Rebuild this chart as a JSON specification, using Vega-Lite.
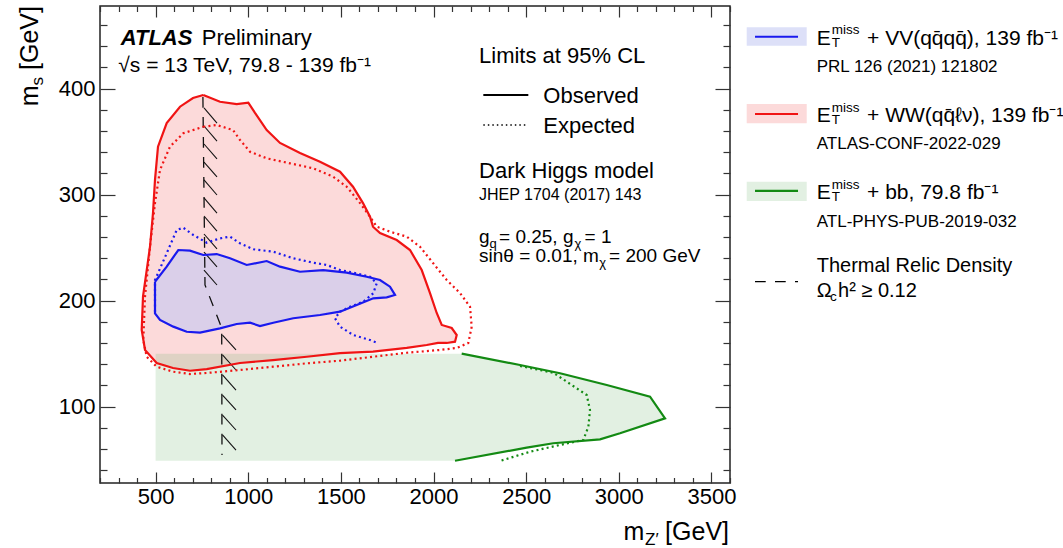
{
"$schema": "https://vega.github.io/schema/vega-lite/v6.json",
"width": 630, "height": 477,
"autosize": {"type": "none"},
"padding": {"left": 100, "top": 6, "right": 333, "bottom": 65},
"background": "white",
"config": {
  "view": {"stroke": "#222", "strokeWidth": 1.5},
  "axis": {"grid": false, "domain": false, "labelFont": "Liberation Sans", "labelFontSize": 22, "labelColor": "#000", "tickColor": "#333", "tickWidth": 1.2, "zindex": 1, "format": "d"}
},
"resolve": {"axis": {"x": "independent", "y": "independent"}},
"encoding": {
  "x": {"field": "x", "type": "quantitative", "scale": {"domain": [200, 3600], "nice": false, "zero": false}, "axis": null},
  "y": {"field": "y", "type": "quantitative", "scale": {"domain": [28, 478], "nice": false, "zero": false}, "axis": null}
},
"datasets": {
  "redObs": [{"x":757.5,"y":394.0},{"x":847.6,"y":387.7},{"x":937.8,"y":385.5},{"x":1000.4,"y":386.8},{"x":1036.5,"y":377.1},{"x":1099.7,"y":361.0},{"x":1171.5,"y":348.8},{"x":1279.4,"y":339.3},{"x":1387.3,"y":331.1},{"x":1495.3,"y":321.7},{"x":1565.4,"y":307.5},{"x":1619.4,"y":292.1},{"x":1657.2,"y":279.2},{"x":1673.4,"y":269.8},{"x":1711.2,"y":263.8},{"x":1801.3,"y":257.2},{"x":1873.1,"y":247.8},{"x":1936.2,"y":228.9},{"x":1981,"y":207.2},{"x":2017.2,"y":188.4},{"x":2044.2,"y":177.1},{"x":2098.1,"y":174.2},{"x":2125.1,"y":167.6},{"x":2115.9,"y":161.3},{"x":2071.2,"y":160.1},{"x":2024.2,"y":160.1},{"x":1963.2,"y":158.2},{"x":1855.3,"y":155.4},{"x":1673.4,"y":151.9},{"x":1495.3,"y":150.6},{"x":1315.6,"y":147.1},{"x":1133.7,"y":144.0},{"x":955.6,"y":141.2},{"x":775.9,"y":135.5},{"x":685.7,"y":133.9},{"x":594,"y":136.5},{"x":506,"y":141.2},{"x":442.9,"y":153.5},{"x":425.1,"y":172.3},{"x":432.1,"y":203.8},{"x":469.9,"y":250.9},{"x":486,"y":282.7},{"x":496.8,"y":313.9},{"x":513,"y":345.3},{"x":560,"y":367.6},{"x":631.8,"y":383},{"x":701.9,"y":391.2},{"x":757.5,"y":394.0}],
  "redExp": [{"x":757.5,"y":364.1},{"x":829.8,"y":365.7},{"x":917.8,"y":361.0},{"x":955.6,"y":351.6},{"x":1009.6,"y":340.5},{"x":1099.7,"y":334.3},{"x":1225.4,"y":329.6},{"x":1349.6,"y":324.9},{"x":1457.5,"y":317.0},{"x":1531.4,"y":307.5},{"x":1603.2,"y":292.1},{"x":1657.2,"y":279.2},{"x":1693.3,"y":269.8},{"x":1765.1,"y":265.1},{"x":1855.3,"y":260.4},{"x":1927,"y":250.9},{"x":1997.2,"y":235.5},{"x":2071.2,"y":219.5},{"x":2142.9,"y":207.2},{"x":2196.9,"y":194.3},{"x":2206,"y":175.4},{"x":2187.7,"y":160.1},{"x":2125.1,"y":155.4},{"x":2035,"y":153.5},{"x":1855.3,"y":150.9},{"x":1673.4,"y":147.1},{"x":1495.3,"y":143.4},{"x":1315.6,"y":140.9},{"x":1133.7,"y":137.7},{"x":955.6,"y":134.6},{"x":775.9,"y":131.8},{"x":685.7,"y":130.8},{"x":594,"y":133.0},{"x":506,"y":137.7},{"x":452,"y":147.1},{"x":433.7,"y":162.9},{"x":442.9,"y":203.8},{"x":469.9,"y":250.9},{"x":496.8,"y":292.1},{"x":523.8,"y":323.3},{"x":577.8,"y":345.3},{"x":649.6,"y":357.9},{"x":757.5,"y":364.1}],
  "blueObs": [{"x":496.8,"y":217.9},{"x":560,"y":232.1},{"x":622.6,"y":247.8},{"x":685.7,"y":247.2},{"x":757.5,"y":243.1},{"x":829.8,"y":244.0},{"x":901.6,"y":240.0},{"x":991.7,"y":233.7},{"x":1099.7,"y":237.4},{"x":1171.5,"y":232.1},{"x":1279.4,"y":227.3},{"x":1405.1,"y":228.9},{"x":1531.4,"y":226.4},{"x":1639.4,"y":222.6},{"x":1711.2,"y":219.5},{"x":1765.1,"y":213.2},{"x":1792.1,"y":205.4},{"x":1747.3,"y":203.2},{"x":1675,"y":202.2},{"x":1585.4,"y":195.9},{"x":1495.3,"y":189.6},{"x":1387.3,"y":186.5},{"x":1243.2,"y":183.4},{"x":1135.3,"y":179.2},{"x":1063.5,"y":176.1},{"x":1009.6,"y":179.2},{"x":937.8,"y":178.0},{"x":847.6,"y":173.9},{"x":739.7,"y":169.8},{"x":667.9,"y":170.7},{"x":595.6,"y":175.5},{"x":523.8,"y":181.8},{"x":496.8,"y":188.1},{"x":496.8,"y":217.9}],
  "blueExp": [{"x":496.8,"y":189.6},{"x":496.8,"y":219.5},{"x":560,"y":244.7},{"x":614,"y":266.7},{"x":649.6,"y":268.8},{"x":703.5,"y":262.0},{"x":775.9,"y":254.7},{"x":847.6,"y":258.8},{"x":901.6,"y":260.4},{"x":955.6,"y":254.1},{"x":1027.4,"y":248.5},{"x":1135.3,"y":246.2},{"x":1243.2,"y":240.0},{"x":1351.2,"y":235.8},{"x":1423.5,"y":233.7},{"x":1495.3,"y":228.9},{"x":1585.4,"y":225.8},{"x":1657.2,"y":222.6},{"x":1693.3,"y":216.4},{"x":1675,"y":207.0},{"x":1621,"y":199.0},{"x":1549.3,"y":194.3},{"x":1495.3,"y":189.6},{"x":1468.3,"y":183.4},{"x":1495.3,"y":175.5},{"x":1566.5,"y":167.6},{"x":1657.2,"y":162.9},{"x":1702,"y":159.8}],
  "greenObs": [{"x":2152,"y":150},{"x":2466.7,"y":139.3},{"x":2682.6,"y":131.5},{"x":2934.7,"y":120.5},{"x":3168.4,"y":109.4},{"x":3249.3,"y":89.0},{"x":3006.4,"y":74.9},{"x":2898.5,"y":69.2},{"x":2646.5,"y":65.5},{"x":2502.9,"y":61.3},{"x":2115.9,"y":49}],
  "greenFill": [{"x":500,"y":150},{"x":2152,"y":150},{"x":2466.7,"y":139.3},{"x":2682.6,"y":131.5},{"x":2934.7,"y":120.5},{"x":3168.4,"y":109.4},{"x":3249.3,"y":89.0},{"x":3006.4,"y":74.9},{"x":2898.5,"y":69.2},{"x":2646.5,"y":65.5},{"x":2502.9,"y":61.3},{"x":2115.9,"y":49},{"x":500,"y":49},{"x":500,"y":150}],
  "greenExp": [{"x":2466.7,"y":138.4},{"x":2646.5,"y":132.0},{"x":2718.8,"y":123.6},{"x":2826.7,"y":111.0},{"x":2844.5,"y":96.9},{"x":2835.7,"y":81.1},{"x":2808.4,"y":68.6},{"x":2682.6,"y":63.9},{"x":2520.7,"y":57.5},{"x":2358.8,"y":48.8}],
  "relic": [{"x":755.4,"y":392.2},{"x":766.7,"y":214.8},{"x":856.8,"y":174.2},{"x":858.4,"y":54.4}],
  "hatch": [
    {"k":1,"x":761.3,"y":381.8},{"k":1,"x":831.4,"y":367.6},
    {"k":2,"x":761.3,"y":364.8},{"k":2,"x":831.4,"y":350.6},
    {"k":3,"x":761.3,"y":347.8},{"k":3,"x":831.4,"y":333.7},
    {"k":4,"x":761.3,"y":330.8},{"k":4,"x":831.4,"y":316.7},
    {"k":5,"x":761.3,"y":313.9},{"k":5,"x":831.4,"y":299.7},
    {"k":6,"x":761.3,"y":296.9},{"k":6,"x":831.4,"y":282.7},
    {"k":7,"x":761.3,"y":279.9},{"k":7,"x":831.4,"y":265.7},
    {"k":8,"x":761.3,"y":262.9},{"k":8,"x":831.4,"y":248.8},
    {"k":9,"x":761.3,"y":245.9},{"k":9,"x":831.4,"y":231.8},
    {"k":10,"x":761.3,"y":228.9},{"k":10,"x":831.4,"y":214.8},
    {"k":11,"x":861.1,"y":167.6},{"k":11,"x":934.0,"y":153.5},
    {"k":12,"x":861.1,"y":148.8},{"k":12,"x":934.0,"y":134.6},
    {"k":13,"x":861.1,"y":129.9},{"k":13,"x":934.0,"y":115.7},
    {"k":14,"x":861.1,"y":111.0},{"k":14,"x":934.0,"y":96.9},
    {"k":15,"x":861.1,"y":92.1},{"k":15,"x":934.0,"y":78.0},
    {"k":16,"x":861.1,"y":73.3},{"k":16,"x":934.0,"y":59.1}
  ],
  "obsL": [{"x":2268.7,"y":394.0},{"x":2511.6,"y":394.0}],
  "expL": [{"x":2268.7,"y":365.7},{"x":2511.6,"y":365.7}],
  "relL": [{"x":3735,"y":217.9},{"x":3967.1,"y":217.9}],
  "sw": [
    {"s":"VV","x":3690.2,"x2":4014.0,"y":440.5,"y2":457.9},
    {"s":"WW","x":3690.2,"x2":4014.0,"y":367.3,"y2":385.5},
    {"s":"bb","x":3690.2,"x2":4014.0,"y":294.0,"y2":312.2}
  ],
  "swl": [
    {"s":"VV","x":3735,"y":449.0},{"s":"VV","x":3967.1,"y":449.0},
    {"s":"WW","x":3735,"y":376.1},{"s":"WW","x":3967.1,"y":376.1},
    {"s":"bb","x":3735,"y":303.5},{"s":"bb","x":3967.1,"y":303.5}
  ],
  "tAtlas": [{"t":"ATLAS","x":311.7,"y":441.2}],
  "t22": [{"t":"Preliminary","x":748.9,"y":441.2},{"t":"Limits at 95% CL","x":2245.5,"y":423.9},{"t":"Observed","x":2592.5,"y":386.8},{"t":"Expected","x":2592.5,"y":358.5},{"t":"Dark Higgs model","x":2245.5,"y":315.5}],
  "t21": [{"t":"√s = 13 TeV, 79.8 - 139 fb⁻¹","x":298.8,"y":416.0},{"t":"E","x":4068,"y":441.2},{"t":"+ VV(qq\u0304qq\u0304), 139 fb⁻¹","x":4339.6,"y":441.2},{"t":"E","x":4068,"y":368.3},{"t":"+ WW(qq\u0304ℓν), 139 fb⁻¹","x":4339.6,"y":368.3},{"t":"E","x":4068,"y":295.6},{"t":"+ bb, 79.8 fb⁻¹","x":4339.6,"y":295.6}],
  "t17": [{"t":"PRL 126 (2021) 121802","x":4068,"y":416.0},{"t":"ATLAS-CONF-2022-029","x":4068,"y":343.1},{"t":"ATL-PHYS-PUB-2019-032","x":4068,"y":269.8}],
  "t16": [{"t":"JHEP 1704 (2017) 143","x":2245.5,"y":295.0}],
  "t19": [{"t":"g","x":2245.5,"y":254.1},{"t":"= 0.25, g","x":2353.4,"y":254.1},{"t":"= 1","x":2814.8,"y":254.1},{"t":"sinθ = 0.01, m","x":2245.5,"y":236.2},{"t":"= 200 GeV","x":2947.1,"y":236.2}],
  "t13": [{"t":"q","x":2302.1,"y":249.7},{"t":"χ","x":2760.9,"y":249.7},{"t":"χ","x":2894.7,"y":231.8}],
  "t14": [{"t":"miss","x":4149,"y":451.3},{"t":"T","x":4149,"y":439.6},{"t":"miss","x":4149,"y":378.4},{"t":"T","x":4149,"y":366.7},{"t":"miss","x":4149,"y":305.8},{"t":"T","x":4149,"y":294.0},{"t":"c","x":4139.8,"y":199.7}],
  "t20": [{"t":"Thermal Relic Density","x":4068,"y":227.3},{"t":"Ω","x":4068,"y":203.8},{"t":"h² ≥ 0.12","x":4183,"y":203.8}],
  "xTitle": [{"t":"m","x":3138.1,"y":-25.8},{"t":"[GeV]","x":3594.7,"y":-25.8}],
  "xTitleSub": [{"t":"Z′","x":3141.4,"y":-30.5}],
  "yTitle": [{"t":"[GeV]","x":-134.6,"y":478},{"t":"m","x":-134.6,"y":403.0}],
  "yTitleSub": [{"t":"s","x":-107.6,"y":411.0}]
},
"layer": [
  {"data": {"name": "redObs"},
   "mark": {"type": "line", "fill": "#fcdada", "stroke": "transparent", "strokeWidth": 0},
   "encoding": {
     "x": {"field": "x", "type": "quantitative", "scale": {"domain": [200, 3600], "nice": false, "zero": false},
           "axis": {"orient": "bottom", "values": [500,1000,1500,2000,2500,3000,3500], "tickSize": -11, "labelPadding": 14, "title": null}},
     "y": {"field": "y", "type": "quantitative", "scale": {"domain": [28, 478], "nice": false, "zero": false},
           "axis": {"orient": "left", "values": [100,200,300,400], "tickSize": -15, "labelPadding": 20, "title": null}},
     "order": {"value": null}}},
  {"data": {"name": "greenFill"},
   "mark": {"type": "line", "fill": "#6eb46e", "fillOpacity": 0.2, "stroke": "transparent", "strokeWidth": 0},
   "encoding": {
     "x": {"field": "x", "type": "quantitative", "scale": {"domain": [200, 3600], "nice": false, "zero": false},
           "axis": {"orient": "bottom", "values": [200,300,400,600,700,800,900,1100,1200,1300,1400,1600,1700,1800,1900,2100,2200,2300,2400,2600,2700,2800,2900,3100,3200,3300,3400,3600], "tickSize": -5.5, "labels": false, "title": null}},
     "y": {"field": "y", "type": "quantitative", "scale": {"domain": [28, 478], "nice": false, "zero": false},
           "axis": {"orient": "left", "values": [40,60,80,120,140,160,180,220,240,260,280,320,340,360,380,420,440,460], "tickSize": -7, "labels": false, "title": null}},
     "order": {"value": null}}},
  {"data": {"name": "blueObs"},
   "mark": {"type": "line", "fill": "#dacfe9", "stroke": "transparent", "strokeWidth": 0},
   "encoding": {
     "x": {"field": "x", "type": "quantitative", "scale": {"domain": [200, 3600], "nice": false, "zero": false},
           "axis": {"orient": "top", "values": [500,1000,1500,2000,2500,3000,3500], "tickSize": -11, "labels": false, "title": null}},
     "y": {"field": "y", "type": "quantitative", "scale": {"domain": [28, 478], "nice": false, "zero": false},
           "axis": {"orient": "right", "values": [100,200,300,400], "tickSize": -15, "labels": false, "title": null}},
     "order": {"value": null}}},
  {"data": {"name": "relic"},
   "mark": {"type": "line", "stroke": "#111", "strokeWidth": 1.3, "strokeDash": [10.7, 9.3]},
   "encoding": {
     "x": {"field": "x", "type": "quantitative", "scale": {"domain": [200, 3600], "nice": false, "zero": false},
           "axis": {"orient": "top", "values": [200,300,400,600,700,800,900,1100,1200,1300,1400,1600,1700,1800,1900,2100,2200,2300,2400,2600,2700,2800,2900,3100,3200,3300,3400,3600], "tickSize": -5.5, "labels": false, "title": null}},
     "y": {"field": "y", "type": "quantitative", "scale": {"domain": [28, 478], "nice": false, "zero": false},
           "axis": {"orient": "right", "values": [40,60,80,120,140,160,180,220,240,260,280,320,340,360,380,420,440,460], "tickSize": -7, "labels": false, "title": null}},
     "order": {"value": null}}},
  {"data": {"name": "hatch"},
   "mark": {"type": "line", "stroke": "#111", "strokeWidth": 1.1},
   "encoding": {"detail": {"field": "k"}, "order": {"value": null}}},
  {"data": {"name": "redExp"},
   "mark": {"type": "line", "stroke": "#f01414", "strokeWidth": 2.2, "strokeDash": [2, 3.2]},
   "encoding": {"order": {"value": null}}},
  {"data": {"name": "redObs"},
   "mark": {"type": "line", "stroke": "#f01414", "strokeWidth": 2.2},
   "encoding": {"order": {"value": null}}},
  {"data": {"name": "blueExp"},
   "mark": {"type": "line", "stroke": "#1a1aee", "strokeWidth": 2.2, "strokeDash": [2, 3.2]},
   "encoding": {"order": {"value": null}}},
  {"data": {"name": "blueObs"},
   "mark": {"type": "line", "stroke": "#1a1aee", "strokeWidth": 2.2},
   "encoding": {"order": {"value": null}}},
  {"data": {"name": "greenExp"},
   "mark": {"type": "line", "stroke": "#138a13", "strokeWidth": 2.2, "strokeDash": [2, 3.2]},
   "encoding": {"order": {"value": null}}},
  {"data": {"name": "greenObs"},
   "mark": {"type": "line", "stroke": "#138a13", "strokeWidth": 2.2},
   "encoding": {"order": {"value": null}}},
  {"data": {"name": "obsL"},
   "mark": {"type": "line", "stroke": "#000", "strokeWidth": 2},
   "encoding": {"order": {"value": null}}},
  {"data": {"name": "expL"},
   "mark": {"type": "line", "stroke": "#000", "strokeWidth": 1.5, "strokeDash": [1.5, 3]},
   "encoding": {"order": {"value": null}}},
  {"data": {"name": "relL"},
   "mark": {"type": "line", "stroke": "#000", "strokeWidth": 1.3, "strokeDash": [10.7, 9.3]},
   "encoding": {"order": {"value": null}}},
  {"data": {"name": "sw"},
   "mark": {"type": "rect"},
   "encoding": {"x2": {"field": "x2"}, "y2": {"field": "y2"},
     "fill": {"field": "s", "type": "nominal", "scale": {"domain": ["VV","WW","bb"], "range": ["#dde0f8","#fcdada","#e2f0e2"]}, "legend": null}}},
  {"data": {"name": "swl"},
   "mark": {"type": "line", "strokeWidth": 2.2},
   "encoding": {"detail": {"field": "s"}, "order": {"value": null},
     "stroke": {"field": "s", "type": "nominal", "scale": {"domain": ["VV","WW","bb"], "range": ["#1a1aee","#f01414","#138a13"]}, "legend": null}}},
  {"data": {"name": "tAtlas"},
   "mark": {"type": "text", "align": "left", "baseline": "alphabetic", "font": "Liberation Sans", "fontSize": 22, "fontWeight": "bold", "fontStyle": "italic", "color": "#000"},
   "encoding": {"text": {"field": "t"}}},
  {"data": {"name": "t22"},
   "mark": {"type": "text", "align": "left", "baseline": "alphabetic", "font": "Liberation Sans", "fontSize": 22, "color": "#000"},
   "encoding": {"text": {"field": "t"}}},
  {"data": {"name": "t21"},
   "mark": {"type": "text", "align": "left", "baseline": "alphabetic", "font": "Liberation Sans", "fontSize": 21, "color": "#000"},
   "encoding": {"text": {"field": "t"}}},
  {"data": {"name": "t20"},
   "mark": {"type": "text", "align": "left", "baseline": "alphabetic", "font": "Liberation Sans", "fontSize": 20, "color": "#000"},
   "encoding": {"text": {"field": "t"}}},
  {"data": {"name": "t19"},
   "mark": {"type": "text", "align": "left", "baseline": "alphabetic", "font": "Liberation Sans", "fontSize": 19, "color": "#000"},
   "encoding": {"text": {"field": "t"}}},
  {"data": {"name": "t17"},
   "mark": {"type": "text", "align": "left", "baseline": "alphabetic", "font": "Liberation Sans", "fontSize": 17, "color": "#000"},
   "encoding": {"text": {"field": "t"}}},
  {"data": {"name": "t16"},
   "mark": {"type": "text", "align": "left", "baseline": "alphabetic", "font": "Liberation Sans", "fontSize": 16, "color": "#000"},
   "encoding": {"text": {"field": "t"}}},
  {"data": {"name": "t14"},
   "mark": {"type": "text", "align": "left", "baseline": "alphabetic", "font": "Liberation Sans", "fontSize": 13.5, "color": "#000"},
   "encoding": {"text": {"field": "t"}}},
  {"data": {"name": "t13"},
   "mark": {"type": "text", "align": "left", "baseline": "alphabetic", "font": "Liberation Sans", "fontSize": 13, "color": "#000"},
   "encoding": {"text": {"field": "t"}}},
  {"data": {"name": "xTitle"},
   "mark": {"type": "text", "align": "right", "baseline": "alphabetic", "font": "Liberation Sans", "fontSize": 25, "color": "#000"},
   "encoding": {"text": {"field": "t"}}},
  {"data": {"name": "xTitleSub"},
   "mark": {"type": "text", "align": "left", "baseline": "alphabetic", "font": "Liberation Sans", "fontSize": 17, "color": "#000"},
   "encoding": {"text": {"field": "t"}}},
  {"data": {"name": "yTitle"},
   "mark": {"type": "text", "align": "right", "baseline": "alphabetic", "angle": 270, "font": "Liberation Sans", "fontSize": 25, "color": "#000"},
   "encoding": {"text": {"field": "t"}}},
  {"data": {"name": "yTitleSub"},
   "mark": {"type": "text", "align": "right", "baseline": "alphabetic", "angle": 270, "font": "Liberation Sans", "fontSize": 17, "color": "#000"},
   "encoding": {"text": {"field": "t"}}}
]
}
